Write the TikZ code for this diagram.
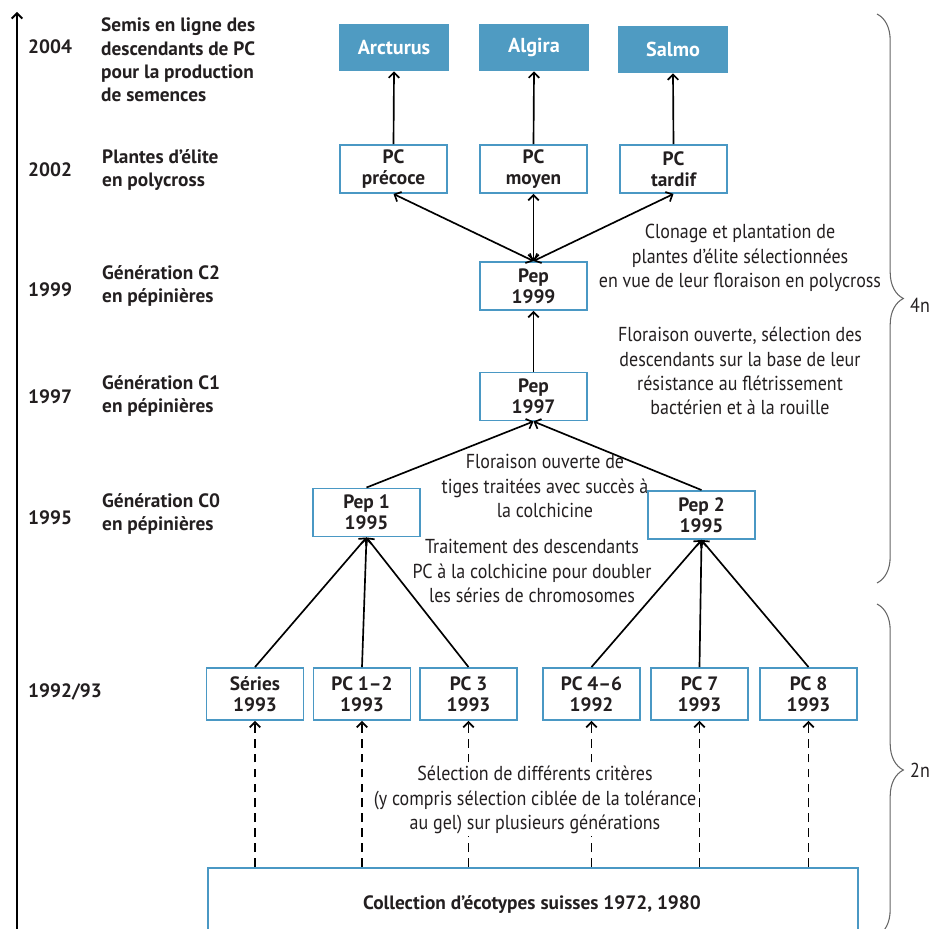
\documentclass[tikz,border=0pt]{standalone}
\usepackage{fontspec}
\setmainfont{PT Sans}
\newfontfamily\narrowfont{PT Sans}[FakeStretch=0.89]
\usetikzlibrary{arrows.meta,decorations.pathreplacing}
\definecolor{boxblue}{HTML}{4A98C4}
\definecolor{fillblue}{HTML}{4F9BC2}
\definecolor{ink}{HTML}{231F20}

\begin{document}
\begin{tikzpicture}[x=0.02cm, y=-0.02cm,
  >={Straight Barb[length=3pt,width=6pt]},
  every node/.style={text=ink, font=\fontsize{11}{13.5}\selectfont},
  gen/.style={draw=boxblue, line width=1.1pt, fill=white, align=center,
    minimum width=2.14cm, minimum height=0.96cm, inner sep=0pt,
    font=\bfseries\fontsize{11}{11.8}\selectfont},
  src/.style={gen, minimum width=1.94cm, minimum height=1.04cm},
  cultivar/.style={fill=fillblue, text=white, minimum width=2.2cm,
    minimum height=0.94cm, inner sep=0pt, font=\bfseries\fontsize{11.5}{13}\selectfont},
  year/.style={anchor=west, font=\bfseries\fontsize{11}{13}\selectfont},
  stage/.style={anchor=west, align=left, font=\bfseries\fontsize{11}{13.2}\selectfont},
  note/.style={align=center, font=\narrowfont\fontsize{11.5}{13.8}\selectfont},
  arr/.style={->, line width=0.95pt},
  dasharr/.style={->, line width=0.95pt, dash pattern=on 5pt off 3.5pt},
  ploidy/.style={gray!80!black, line width=0.6pt, decorate,
    decoration={brace, amplitude=15pt}}]

\clip (0,0) rectangle (937,929);
\useasboundingbox (0,0) rectangle (937,929);

% time axis
\draw[->, line width=1.1pt] (17,929) -- (17,12);

\node[year] (y04) at (22,47) {2004};
\node[year] (y02) at (22,170) {2002};
\node[year] (y99) at (22,290) {1999};
\node[year] (y97) at (22,397) {1997};
\node[year] (y95) at (22,518) {1995};
\node[year] (y92) at (22,692) {1992/93};

\node[stage] (s04) at (95,60) {Semis en ligne des\\descendants de PC\\pour la production\\de semences};
\node[stage] (s02) at (96,170) {Plantes d’élite\\en polycross};
\node[stage] (s99) at (96,286) {Génération C2\\en pépinières};
\node[stage] (s97) at (96,396) {Génération C1\\en pépinières};
\node[stage] (s95) at (96,514) {Génération C0\\en pépinières};

% cultivars
\node[cultivar] (arcturus) at (394,47.5) {Arcturus};
\node[cultivar] (algira) at (534,47.5) {Algira};
\node[cultivar] (salmo) at (673,49.5) {Salmo};

% polycross
\node[gen] (precoce) at (393.5,169) {PC\\précoce};
\node[gen] (moyen) at (533.5,169) {PC\\moyen};
\node[gen] (tardif) at (673.5,169) {PC\\tardif};

% nurseries
\node[gen] (pep99) at (533.5,286) {Pep\\1999};
\node[gen] (pep97) at (533.5,396.5) {Pep\\1997};
\node[gen] (pep1) at (366.5,512.5) {Pep 1\\1995};
\node[gen] (pep2) at (701.5,515) {Pep 2\\1995};

% 1992/93 lines
\node[src] (series) at (255,694) {Séries\\1993};
\node[src] (pc12) at (362,694) {PC 1–2\\1993};
\node[src] (pc3) at (468.5,694) {PC 3\\1993};
\node[src] (pc46) at (591.5,694) {PC 4–6\\1992};
\node[src] (pc7) at (699.5,694) {PC 7\\1993};
\node[src] (pc8) at (808.5,694) {PC 8\\1993};

\node[draw=boxblue, line width=1.1pt, minimum width=13cm, minimum height=1.46cm,
  anchor=north west, inner sep=0pt] (coll) at (207,867) {};
\node[font=\bfseries\fontsize{11}{13}\selectfont] (colltext) at (532,905) {Collection d’écotypes suisses 1972, 1980};

\foreach \b in {series,pc12,pc3,pc46,pc7,pc8}
  \draw[dasharr] (\b |- coll.north) -- (\b.south);

\node[note, fill=white, inner sep=1pt] (selnote) at (535,800) {Sélection de différents critères\\(y compris sélection ciblée de la tolérance\\au gel) sur plusieurs générations};

\foreach \b in {series,pc12,pc3}
  \draw[arr] (\b.north) -- (pep1.south);
\foreach \b in {pc46,pc7,pc8}
  \draw[arr] (\b.north) -- (pep2.south);

\draw[arr] (pep1.north) -- (pep97.south);
\draw[arr] (pep2.north) -- (pep97.south);
\draw[arr] (pep97.north) -- (pep99.south);

\foreach \b in {precoce,moyen,tardif}
  \draw[<->, line width=0.95pt] (\b.south) -- (pep99.north);

\draw[arr] (precoce.north) -- (arcturus.south);
\draw[arr] (moyen.north) -- (algira.south);
\draw[arr] (tardif.north) -- (salmo.south);

% comments between the levels
\node[note] (clone) at (740,258) {Clonage et plantation de\\plantes d’élite sélectionnées\\en vue de leur floraison en polycross};
\node[note] (flor97) at (740,371) {Floraison ouverte, sélection des\\descendants sur la base de leur\\résistance au flétrissement\\bactérien et à la rouille};
\node[note] (flor95) at (545,486) {Floraison ouverte de\\tiges traitées avec succès à\\la colchicine};
\node[note] (colch) at (532,571) {Traitement des descendants\\PC à la colchicine pour doubler\\les séries de chromosomes};

% ploidy
\draw[ploidy] (877,14) -- (877,583);
\node[note, anchor=west] (tetra) at (904,305) {4n};
\draw[ploidy] (877,604) -- (877,936);
\node[note, anchor=west] (di) at (904,770) {2n};
\end{tikzpicture}
\end{document}
